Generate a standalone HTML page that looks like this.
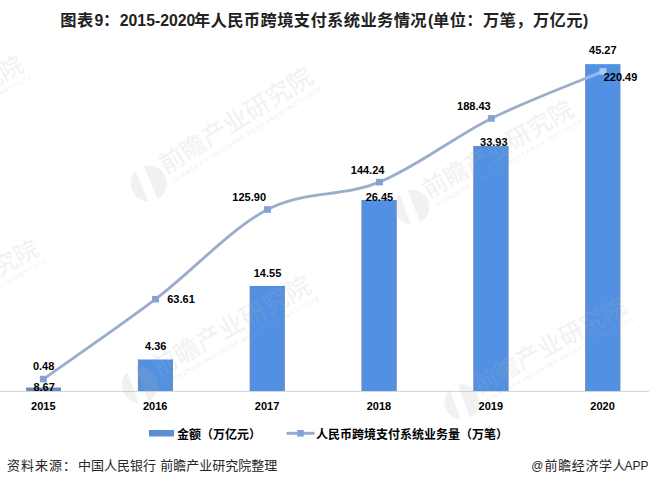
<!DOCTYPE html>
<html><head><meta charset="utf-8"><style>
html,body{margin:0;padding:0;background:#fff;}
body{width:649px;height:486px;overflow:hidden;position:relative;}
.t{position:absolute;white-space:nowrap;}
.tc{font:bold 16.3px "Liberation Sans","Noto Sans CJK SC",sans-serif;fill:#222;letter-spacing:0.37px;}
.tl{font:bold 15.8px "Liberation Sans",sans-serif;fill:#222;}
svg{position:absolute;left:0;top:0;}
.wm{fill:#b0b0b0;fill-opacity:0.18;}
.wt{font:500 23.5px "Liberation Sans","Noto Sans CJK SC",sans-serif;}
.ws{font:bold 6px "Liberation Sans",sans-serif;letter-spacing:0.9px;}
.v{font:bold 11px "Liberation Sans",sans-serif;fill:#000;text-anchor:middle;}
.lg{font:bold 12px "Liberation Sans","Noto Sans CJK SC",sans-serif;fill:#000;}
.ft{font:13px "Liberation Sans","Noto Sans CJK SC",sans-serif;fill:#262626;}
.fl{font:12px "Liberation Sans",sans-serif;fill:#262626;}
</style></head><body>
<svg width="649" height="486" viewBox="0 0 649 486">
<line x1="0" y1="391.5" x2="649" y2="391.5" stroke="#d6d6d6" stroke-width="1"/>
<rect x="26.10" y="387.53" width="34.90" height="3.47" fill="#6d8db8"/>
<rect x="137.95" y="359.52" width="34.90" height="31.48" fill="#5190e2"/>
<rect x="137.95" y="359.52" width="1.2" height="31.48" fill="#6a8cc0"/>
<rect x="171.65" y="359.52" width="1.2" height="31.48" fill="#6a8cc0"/>
<rect x="249.80" y="285.95" width="34.90" height="105.05" fill="#5190e2"/>
<rect x="249.80" y="285.95" width="1.2" height="105.05" fill="#6a8cc0"/>
<rect x="283.50" y="285.95" width="1.2" height="105.05" fill="#6a8cc0"/>
<rect x="361.65" y="200.03" width="34.90" height="190.97" fill="#5190e2"/>
<rect x="361.65" y="200.03" width="1.2" height="190.97" fill="#6a8cc0"/>
<rect x="395.35" y="200.03" width="1.2" height="190.97" fill="#6a8cc0"/>
<rect x="473.50" y="146.03" width="34.90" height="244.97" fill="#5190e2"/>
<rect x="473.50" y="146.03" width="1.2" height="244.97" fill="#6a8cc0"/>
<rect x="507.20" y="146.03" width="1.2" height="244.97" fill="#6a8cc0"/>
<rect x="585.35" y="64.15" width="34.90" height="326.85" fill="#5190e2"/>
<rect x="585.35" y="64.15" width="1.2" height="326.85" fill="#6a8cc0"/>
<rect x="619.05" y="64.15" width="1.2" height="326.85" fill="#6a8cc0"/>
<defs><clipPath id="cb"><rect x="26.10" y="387.53" width="34.90" height="3.47"/><rect x="137.95" y="359.52" width="34.90" height="31.48"/><rect x="249.80" y="285.95" width="34.90" height="105.05"/><rect x="361.65" y="200.03" width="34.90" height="190.97"/><rect x="473.50" y="146.03" width="34.90" height="244.97"/><rect x="585.35" y="64.15" width="34.90" height="326.85"/></clipPath></defs>
<path d="M43.40,379.10 C62.08,365.78 118.15,327.47 155.50,299.20 C192.85,270.93 230.17,229.02 267.50,209.50 C304.83,189.98 342.18,197.28 379.50,182.10 C416.82,166.92 454.15,136.85 491.40,118.40 C528.65,99.95 584.40,79.23 603.00,71.40" fill="none" stroke="#9badca" stroke-width="2.8" stroke-linecap="round"/>
<path d="M43.40,379.10 C62.08,365.78 118.15,327.47 155.50,299.20 C192.85,270.93 230.17,229.02 267.50,209.50 C304.83,189.98 342.18,197.28 379.50,182.10 C416.82,166.92 454.15,136.85 491.40,118.40 C528.65,99.95 584.40,79.23 603.00,71.40" fill="none" stroke="#8fb6ee" stroke-width="3.2" clip-path="url(#cb)"/>
<rect x="39.90" y="375.80" width="7" height="6.6" fill="#85a2d6"/>
<rect x="152.00" y="295.90" width="7" height="6.6" fill="#85a2d6"/>
<rect x="264.00" y="206.20" width="7" height="6.6" fill="#85a2d6"/>
<rect x="376.00" y="178.80" width="7" height="6.6" fill="#85a2d6"/>
<rect x="487.90" y="115.10" width="7" height="6.6" fill="#85a2d6"/>
<rect x="599.50" y="68.10" width="7" height="6.6" fill="#aac8f4"/>
<defs><mask id="lm" maskUnits="userSpaceOnUse" x="-20" y="-20" width="40" height="40"><circle cx="0" cy="0" r="17" fill="#fff"/><path d="M-4,-19 L5,-19 L-1,19 L-10,19 Z" fill="#000"/></mask></defs>
<g transform="translate(148.7,183.4) rotate(-32.0) scale(1.07)" class="wm"><circle cx="0" cy="0" r="17" mask="url(#lm)"/><text x="18" y="1.5" class="wt">前瞻产业研究院</text><text x="21" y="12" class="ws">QIANZHAN INDUSTRY RESEARCH INSTITUTE</text></g>
<g transform="translate(140.0,385.0) rotate(-29.0) scale(1.08)" class="wm"><circle cx="0" cy="0" r="17" mask="url(#lm)"/><text x="18" y="1.5" class="wt">前瞻产业研究院</text><text x="21" y="12" class="ws">QIANZHAN INDUSTRY RESEARCH INSTITUTE</text></g>
<g transform="translate(412.0,207.0) rotate(-30.0) scale(1.03)" class="wm"><circle cx="0" cy="0" r="17" mask="url(#lm)"/><text x="18" y="1.5" class="wt">前瞻产业研究院</text><text x="21" y="12" class="ws">QIANZHAN INDUSTRY RESEARCH INSTITUTE</text></g>
<g transform="translate(462.0,402.0) rotate(-29.0) scale(1.04)" class="wm"><circle cx="0" cy="0" r="17" mask="url(#lm)"/><text x="18" y="1.5" class="wt">前瞻产业研究院</text><text x="21" y="12" class="ws">QIANZHAN INDUSTRY RESEARCH INSTITUTE</text></g>
<g transform="translate(-135.0,157.0) rotate(-29.0) scale(1.00)" class="wm"><circle cx="0" cy="0" r="17" mask="url(#lm)"/><text x="18" y="1.5" class="wt">前瞻产业研究院</text><text x="21" y="12" class="ws">QIANZHAN INDUSTRY RESEARCH INSTITUTE</text></g>
<g transform="translate(-120.0,341.0) rotate(-29.0) scale(1.00)" class="wm"><circle cx="0" cy="0" r="17" mask="url(#lm)"/><text x="18" y="1.5" class="wt">前瞻产业研究院</text><text x="21" y="12" class="ws">QIANZHAN INDUSTRY RESEARCH INSTITUTE</text></g>
<text x="43.6" y="369.8" class="v">0.48</text>
<text x="155.8" y="349.8" class="v">4.36</text>
<text x="267.5" y="276.7" class="v">14.55</text>
<text x="379.4" y="200.8" class="v">26.45</text>
<text x="493.8" y="145.6" class="v">33.93</text>
<text x="602.8" y="53.9" class="v">45.27</text>
<text x="44.1" y="390.8" class="v">8.67</text>
<text x="181.0" y="302.9" class="v">63.61</text>
<text x="249.2" y="201.2" class="v">125.90</text>
<text x="367.6" y="173.9" class="v">144.24</text>
<text x="473.9" y="110.0" class="v">188.43</text>
<text x="620.5" y="81.1" class="v">220.49</text>
<text x="43.3" y="410" class="v">2015</text>
<text x="155.2" y="410" class="v">2016</text>
<text x="267.1" y="410" class="v">2017</text>
<text x="378.9" y="410" class="v">2018</text>
<text x="490.8" y="410" class="v">2019</text>
<text x="602.6" y="410" class="v">2020</text>
<rect x="149" y="430" width="25" height="6.5" fill="#5b8fd2"/>
<line x1="286.5" y1="433.3" x2="314.5" y2="433.3" stroke="#98abcb" stroke-width="3"/>
<rect x="297.2" y="430" width="6.6" height="6.6" fill="#85a2d6"/>
<text x="60.3" y="26.3" class="tc">图表</text>
<text x="94.4" y="26" class="tl">9</text>
<text x="102.9" y="26.3" class="tc">：</text>
<text x="119.8" y="26" class="tl">2015-2020</text>
<text x="193.9" y="26.3" class="tc">年人民币跨境支付系统业务情况</text>
<text x="428.1" y="26" class="tl">(</text>
<text x="433.0" y="26.3" class="tc">单位：万笔，万亿元</text>
<text x="583.1" y="26" class="tl">)</text>
<text x="177" y="438.5" class="lg">金额（万亿元）</text>
<text x="7.1" y="469.5" class="ft" letter-spacing="1">资料来源：</text>
<text x="77.9" y="469.5" class="ft">中国人民银行</text>
<text x="160.2" y="469.5" class="ft">前瞻产业研究院整理</text>
<text x="531.2" y="469.5" class="fl">@</text>
<text x="544.6" y="469.5" class="ft" letter-spacing="0.6">前瞻经济学人</text>
<text x="624.5" y="469.5" class="fl">APP</text>
<text x="316" y="438.5" class="lg">人民币跨境支付系统业务量（万笔）</text>
</svg>
</body></html>
